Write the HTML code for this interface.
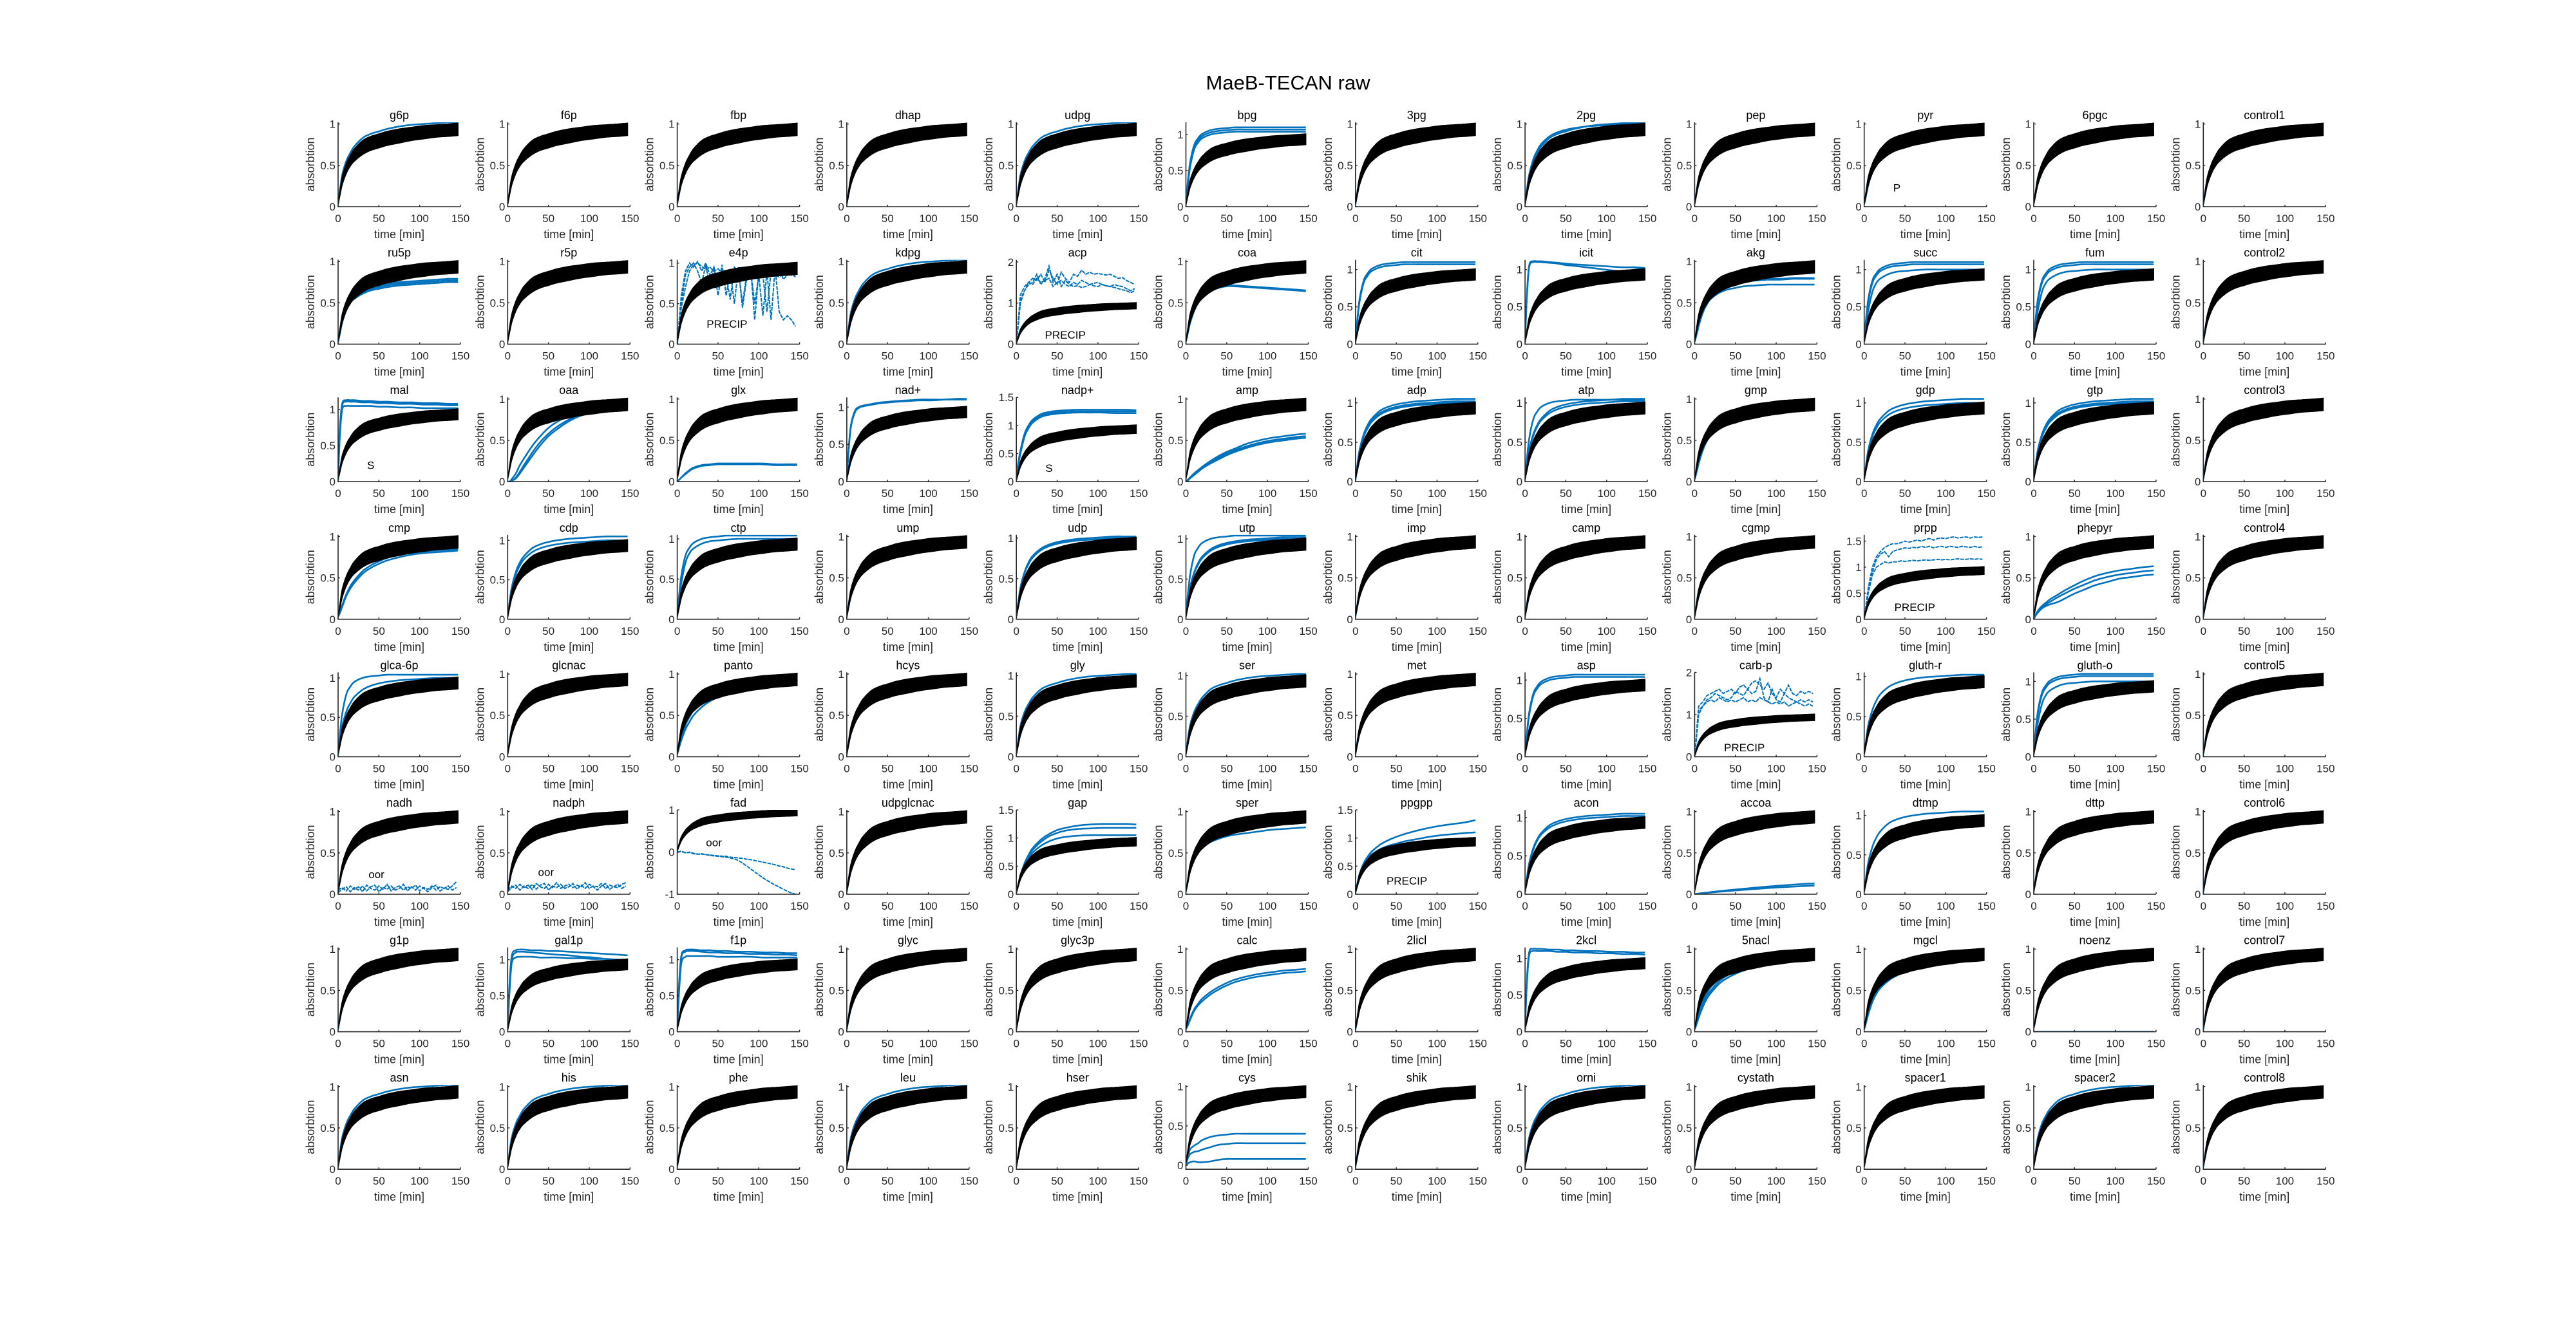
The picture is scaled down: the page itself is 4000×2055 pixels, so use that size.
<!DOCTYPE html>
<html><head><meta charset="utf-8"><title>MaeB-TECAN raw</title>
<style>html,body{margin:0;padding:0;background:#fff}svg{display:block}text{font-family:"Liberation Sans",Arial,sans-serif;fill:#262626}</style>
</head><body>
<svg id="fig" width="4000" height="2055" viewBox="0 0 4000 2055" xmlns="http://www.w3.org/2000/svg">
<rect x="0" y="0" width="4000" height="2055" fill="#fff"/>
<text x="2000" y="139" font-size="31" text-anchor="middle" style="fill:#000">MaeB-TECAN raw</text>
</svg>
<script>
const T=[0,2,5,10,15,20,30,40,50,60,75,90,105,120,135,147];
const TN=[0,5,10,15,20,25,30,35,40,45,50,55,60,65,70,75,80,85,90,95,100,105,110,115,120,125,130,135,140,145];
const bandTop=[0.03,0.17,0.36,0.52,0.62,0.70,0.80,0.85,0.88,0.91,0.94,0.96,0.98,0.99,1.0,1.01];
const bandBot=[0.03,0.12,0.26,0.40,0.49,0.55,0.63,0.68,0.71,0.74,0.77,0.80,0.82,0.84,0.85,0.86];
const panelNames=["g6p","f6p","fbp","dhap","udpg","bpg","3pg","2pg","pep","pyr","6pgc","control1",
"ru5p","r5p","e4p","kdpg","acp","coa","cit","icit","akg","succ","fum","control2",
"mal","oaa","glx","nad+","nadp+","amp","adp","atp","gmp","gdp","gtp","control3",
"cmp","cdp","ctp","ump","udp","utp","imp","camp","cgmp","prpp","phepyr","control4",
"glca-6p","glcnac","panto","hcys","gly","ser","met","asp","carb-p","gluth-r","gluth-o","control5",
"nadh","nadph","fad","udpglcnac","gap","sper","ppgpp","acon","accoa","dtmp","dttp","control6",
"g1p","gal1p","f1p","glyc","glyc3p","calc","2licl","2kcl","5nacl","mgcl","noenz","control7",
"asn","his","phe","leu","hser","cys","shik","orni","cystath","spacer1","spacer2","control8"];
const panelYmax=[1.02,1.02,1.02,1.02,1.02,1.17,1.02,1.02,1.02,1.02,1.02,1.02,
1.02,1.02,1.04,1.02,2.05,1.02,1.13,1.13,1.02,1.13,1.13,1.02,
1.17,1.02,1.02,1.13,1.5,1.02,1.07,1.07,1.02,1.07,1.07,1.02,
1.02,1.07,1.05,1.02,1.04,1.05,1.02,1.02,1.02,1.62,1.02,1.02,
1.07,1.02,1.02,1.02,1.04,1.04,1.02,1.1,2.0,1.05,1.12,1.02,
1.02,1.02,1.0,1.02,1.5,1.02,1.5,1.1,1.02,1.07,1.02,1.02,
1.02,1.17,1.17,1.02,1.02,1.02,1.02,1.15,1.02,1.02,1.02,1.02,
1.02,1.02,1.02,1.02,1.02,1.02,1.02,1.02,1.02,1.02,1.02,1.02];
const panelYmin={"fad":-1,"cys":-0.05};
const nearTop=[0.03,0.16,0.34,0.50,0.60,0.68,0.78,0.84,0.87,0.90,0.93,0.95,0.97,0.98,0.99,1.0];
const aboveTop=[0.03,0.18,0.38,0.55,0.65,0.73,0.83,0.88,0.91,0.94,0.97,0.99,1.0,1.01,1.02,1.02];
const hi110=[0.03,0.3,0.6,0.85,0.95,1.01,1.06,1.08,1.09,1.1,1.1,1.1,1.1,1.1,1.1,1.1];
const hi107=[0.03,0.28,0.57,0.82,0.92,0.98,1.03,1.05,1.06,1.07,1.07,1.07,1.07,1.07,1.07,1.07];
const hi104=[0.03,0.26,0.54,0.79,0.89,0.95,1.0,1.02,1.03,1.04,1.04,1.04,1.04,1.04,1.04,1.04];
const s100=[0.03,0.22,0.45,0.7,0.82,0.88,0.94,0.97,0.98,0.99,1.0,1.0,1.0,1.0,1.0,1.0];
const up105=[0.03,0.19,0.4,0.6,0.72,0.8,0.9,0.95,0.98,1.0,1.02,1.03,1.04,1.05,1.05,1.05];
const up102=[0.03,0.18,0.39,0.58,0.7,0.78,0.87,0.92,0.95,0.97,0.99,1.0,1.01,1.02,1.02,1.02];
const up100=[0.03,0.18,0.38,0.57,0.68,0.76,0.85,0.9,0.93,0.95,0.97,0.98,0.99,1.0,1.0,1.0];
const pyrC=[0.03,0.12,0.26,0.42,0.52,0.6,0.7,0.77,0.82,0.86,0.9,0.93,0.95,0.97,0.98,0.99];
const ru1=[0.03,0.14,0.29,0.44,0.53,0.59,0.65,0.69,0.71,0.73,0.75,0.76,0.77,0.78,0.79,0.79];
const ru2=[0.03,0.13,0.28,0.43,0.52,0.57,0.63,0.67,0.69,0.71,0.73,0.74,0.75,0.76,0.77,0.77];
const ru3=[0.03,0.12,0.26,0.41,0.5,0.55,0.61,0.65,0.67,0.69,0.71,0.72,0.73,0.74,0.75,0.75];
const coa1=[0.03,0.12,0.25,0.4,0.5,0.57,0.64,0.68,0.7,0.7,0.69,0.68,0.67,0.66,0.65,0.64];
const coa2=[0.03,0.13,0.27,0.42,0.52,0.59,0.66,0.69,0.71,0.71,0.7,0.69,0.68,0.67,0.66,0.65];
const icit1=[0.03,0.6,1.05,1.11,1.11,1.11,1.1,1.09,1.08,1.07,1.06,1.05,1.04,1.03,1.03,1.02];
const icit2=[0.03,0.58,1.03,1.1,1.1,1.1,1.09,1.08,1.06,1.05,1.03,1.01,0.99,0.98,1.0,1.02];
const akg1=[0.03,0.14,0.28,0.45,0.56,0.63,0.7,0.74,0.76,0.77,0.78,0.79,0.79,0.8,0.8,0.8];
const akg2=[0.03,0.13,0.27,0.44,0.55,0.62,0.69,0.73,0.75,0.76,0.77,0.78,0.78,0.79,0.79,0.79];
const akg3=[0.03,0.1,0.22,0.38,0.48,0.55,0.62,0.66,0.68,0.7,0.71,0.72,0.72,0.72,0.72,0.72];
const mal1=[0.03,0.7,1.08,1.13,1.13,1.13,1.12,1.12,1.11,1.11,1.1,1.1,1.09,1.09,1.08,1.08];
const mal2=[0.03,0.68,1.06,1.11,1.11,1.11,1.1,1.1,1.09,1.09,1.08,1.08,1.07,1.07,1.06,1.06];
const mal3=[0.03,0.6,1.0,1.05,1.05,1.05,1.05,1.05,1.04,1.04,1.03,1.03,1.02,1.02,1.02,1.02];
const oaa1=[0,0,0.01,0.05,0.12,0.2,0.35,0.48,0.58,0.66,0.75,0.81,0.86,0.88,0.9,0.91];
const oaa2=[0,0,0.03,0.1,0.2,0.28,0.43,0.55,0.65,0.72,0.8,0.85,0.88,0.9,0.91,0.92];
const oaa3=[0,0,0.01,0.04,0.1,0.17,0.31,0.44,0.55,0.63,0.73,0.8,0.85,0.88,0.9,0.91];
const glx1=[0,0.02,0.05,0.1,0.14,0.17,0.2,0.21,0.22,0.22,0.22,0.22,0.22,0.21,0.21,0.21];
const glx2=[0,0.02,0.05,0.09,0.13,0.16,0.19,0.2,0.21,0.21,0.21,0.21,0.21,0.2,0.2,0.2];
const nad1=[0.03,0.4,0.75,0.95,1.0,1.02,1.04,1.06,1.07,1.08,1.09,1.1,1.1,1.1,1.11,1.11];
const nad2=[0.03,0.38,0.73,0.93,0.99,1.01,1.03,1.05,1.06,1.07,1.08,1.09,1.09,1.1,1.1,1.1];
const np1=[0.03,0.3,0.55,0.85,1.0,1.1,1.2,1.24,1.26,1.27,1.28,1.28,1.28,1.28,1.28,1.27];
const np2=[0.03,0.28,0.52,0.82,0.97,1.07,1.17,1.21,1.23,1.24,1.25,1.25,1.25,1.25,1.25,1.25];
const np3=[0.03,0.27,0.5,0.8,0.95,1.05,1.15,1.19,1.21,1.22,1.23,1.23,1.23,1.22,1.22,1.22];
const amp1=[0,0.02,0.05,0.1,0.14,0.18,0.25,0.31,0.36,0.4,0.46,0.5,0.53,0.55,0.57,0.58];
const amp2=[0,0.02,0.05,0.09,0.13,0.17,0.24,0.29,0.34,0.38,0.43,0.47,0.5,0.52,0.54,0.55];
const amp3=[0,0.01,0.04,0.08,0.12,0.16,0.22,0.27,0.32,0.36,0.41,0.45,0.48,0.5,0.52,0.53];
const gmp1=[0.03,0.12,0.25,0.42,0.53,0.6,0.7,0.76,0.8,0.83,0.86,0.88,0.89,0.9,0.9,0.9];
const gmp2=[0.03,0.1,0.22,0.38,0.49,0.56,0.66,0.72,0.77,0.8,0.84,0.86,0.88,0.89,0.9,0.9];
const cmp1=[0.03,0.08,0.17,0.3,0.4,0.47,0.58,0.65,0.7,0.74,0.78,0.8,0.82,0.83,0.84,0.85];
const cmp2=[0.03,0.07,0.15,0.28,0.37,0.44,0.55,0.62,0.67,0.71,0.75,0.78,0.8,0.81,0.82,0.83];
const ph1=[0,0.05,0.1,0.16,0.2,0.24,0.3,0.36,0.41,0.46,0.52,0.56,0.59,0.61,0.63,0.64];
const ph2=[0,0.04,0.09,0.14,0.18,0.21,0.27,0.32,0.37,0.41,0.47,0.51,0.54,0.56,0.58,0.59];
const ph3=[0,0.04,0.08,0.13,0.16,0.18,0.21,0.26,0.31,0.35,0.41,0.45,0.49,0.51,0.53,0.54];
const pa1=[0.03,0.1,0.2,0.33,0.42,0.5,0.6,0.67,0.72,0.76,0.8,0.83,0.85,0.87,0.88,0.89];
const pa2=[0.03,0.12,0.24,0.38,0.48,0.56,0.66,0.72,0.77,0.8,0.84,0.86,0.88,0.89,0.9,0.9];
const gap1=[0.03,0.15,0.33,0.55,0.7,0.82,0.97,1.07,1.14,1.18,1.22,1.24,1.25,1.25,1.25,1.24];
const gap2=[0.03,0.15,0.32,0.53,0.68,0.79,0.93,1.03,1.09,1.13,1.16,1.17,1.18,1.18,1.18,1.18];
const gap3=[0.03,0.14,0.3,0.5,0.64,0.74,0.86,0.94,0.99,1.02,1.04,1.05,1.05,1.05,1.05,1.05];
const sp1=[0.03,0.13,0.28,0.42,0.5,0.56,0.63,0.67,0.7,0.72,0.74,0.76,0.78,0.79,0.8,0.81];
const pp1=[0.03,0.17,0.36,0.55,0.67,0.76,0.88,0.96,1.02,1.07,1.13,1.18,1.22,1.25,1.28,1.32];
const pp2=[0.03,0.16,0.34,0.52,0.63,0.71,0.8,0.86,0.9,0.94,0.98,1.02,1.05,1.07,1.09,1.1];
const ac1=[0,0.003,0.008,0.015,0.02,0.026,0.037,0.047,0.057,0.066,0.08,0.093,0.105,0.115,0.125,0.13];
const ac2=[0,0.002,0.006,0.012,0.016,0.021,0.03,0.038,0.046,0.053,0.064,0.075,0.084,0.092,0.1,0.105];
const gal1=[0.03,0.6,1.05,1.13,1.14,1.14,1.13,1.13,1.12,1.12,1.11,1.1,1.09,1.08,1.07,1.06];
const gal2=[0.03,0.55,1.0,1.1,1.11,1.11,1.1,1.09,1.08,1.07,1.06,1.04,1.03,1.01,1.0,0.99];
const gal3=[0.03,0.5,0.95,1.03,1.04,1.04,1.04,1.03,1.03,1.03,1.02,1.02,1.01,1.01,1.0,1.0];
const f1a=[0.03,0.6,1.05,1.13,1.14,1.14,1.13,1.13,1.12,1.12,1.11,1.11,1.1,1.1,1.09,1.09];
const f1b=[0.03,0.58,1.03,1.11,1.12,1.12,1.11,1.1,1.1,1.09,1.09,1.08,1.08,1.07,1.07,1.06];
const f1c=[0.03,0.5,0.95,1.04,1.05,1.05,1.05,1.05,1.04,1.04,1.04,1.04,1.03,1.03,1.03,1.03];
const ca1=[0.03,0.08,0.16,0.27,0.34,0.4,0.48,0.54,0.59,0.63,0.67,0.7,0.72,0.74,0.75,0.76];
const ca2=[0.03,0.07,0.14,0.25,0.32,0.37,0.45,0.51,0.56,0.6,0.64,0.67,0.69,0.71,0.72,0.73];
const li1=[0.03,0.13,0.28,0.45,0.56,0.64,0.74,0.8,0.84,0.87,0.9,0.92,0.94,0.95,0.96,0.97];
const kc1=[0.03,0.65,1.08,1.13,1.13,1.13,1.12,1.12,1.11,1.11,1.1,1.1,1.09,1.09,1.08,1.08];
const kc2=[0.03,0.6,1.04,1.1,1.1,1.1,1.1,1.09,1.09,1.08,1.08,1.07,1.07,1.06,1.06,1.05];
const na1=[0.03,0.08,0.17,0.3,0.4,0.47,0.58,0.65,0.7,0.74,0.79,0.82,0.85,0.87,0.88,0.89];
const na2=[0.03,0.09,0.19,0.33,0.43,0.5,0.61,0.68,0.73,0.77,0.81,0.84,0.86,0.88,0.89,0.9];
const na3=[0.03,0.1,0.21,0.36,0.46,0.54,0.64,0.71,0.76,0.8,0.84,0.86,0.88,0.89,0.9,0.9];
const mg1=[0.03,0.1,0.21,0.36,0.46,0.53,0.62,0.68,0.72,0.76,0.8,0.83,0.85,0.87,0.88,0.89];
const flat0=[0,0,0,0,0,0,0,0,0,0,0,0,0,0,0,0];
const cy1=[0,0.1,0.2,0.25,0.28,0.32,0.36,0.38,0.39,0.4,0.4,0.4,0.4,0.4,0.4,0.4];
const cy2=[0,0.08,0.14,0.17,0.18,0.2,0.23,0.26,0.27,0.28,0.28,0.28,0.28,0.28,0.28,0.28];
const cy3=[0,0.02,0.04,0.05,0.04,0.04,0.05,0.07,0.08,0.08,0.08,0.08,0.08,0.08,0.08,0.08];
const e4p1=[0,0.6,0.9,1.0,0.95,1.02,0.9,1.0,0.85,0.95,0.7,0.98,0.6,0.9,0.5,0.95,0.45,0.8,0.9,0.5,0.85,0.35,0.9,0.3,0.95,0.4,0.3,0.35,0.3,0.22];
const e4p2=[0,0.5,0.85,0.95,1.0,0.9,0.75,0.98,0.7,0.95,0.6,0.9,0.85,0.55,0.95,0.9,0.5,0.85,0.95,0.3,0.9,0.85,0.4,0.9,0.85,0.95,0.8,0.85,0.9,0.82];
const e4p3=[0,0.45,0.7,0.9,0.98,1.0,0.96,0.92,0.95,0.9,0.93,0.88,0.9,0.85,0.9,0.88,0.85,0.87,0.9,0.85,0.88,0.84,0.86,0.9,0.85,0.83,0.86,0.88,0.85,0.84];
const acp1=[0,1.2,1.4,1.5,1.6,1.55,1.7,1.5,1.8,1.6,1.45,1.75,1.6,1.5,1.7,1.65,1.8,1.7,1.75,1.7,1.72,1.7,1.68,1.7,1.65,1.6,1.62,1.55,1.5,1.45];
const acp2=[0,1.1,1.3,1.45,1.5,1.7,1.45,1.6,1.9,1.5,1.7,1.4,1.55,1.45,1.4,1.42,1.38,1.4,1.45,1.42,1.4,1.45,1.42,1.4,1.45,1.42,1.4,1.35,1.3,1.35];
const acp3=[0,1.0,1.3,1.5,1.45,1.6,1.5,1.55,1.6,1.4,1.5,1.55,1.45,1.4,1.5,1.45,1.55,1.5,1.45,1.48,1.5,1.45,1.42,1.4,1.38,1.35,1.32,1.3,1.25,1.3];
const prpp1=[0,0.6,1.0,1.2,1.3,1.38,1.42,1.45,1.45,1.47,1.5,1.48,1.5,1.52,1.5,1.53,1.55,1.52,1.55,1.56,1.55,1.57,1.58,1.56,1.57,1.58,1.56,1.58,1.57,1.58];
const prpp2=[0,0.55,0.9,1.15,1.25,1.3,1.2,1.3,1.33,1.35,1.37,1.36,1.38,1.37,1.4,1.38,1.4,1.37,1.39,1.4,1.38,1.4,1.39,1.38,1.4,1.39,1.38,1.4,1.38,1.39];
const prpp3=[0,0.5,0.85,1.0,1.05,1.1,1.08,1.1,1.1,1.12,1.11,1.12,1.13,1.12,1.13,1.14,1.13,1.14,1.15,1.14,1.15,1.14,1.15,1.16,1.15,1.15,1.16,1.15,1.16,1.15];
const carb1=[0,1.2,1.3,1.45,1.5,1.55,1.6,1.5,1.55,1.6,1.5,1.65,1.7,1.6,1.75,1.8,1.7,1.6,1.75,1.5,1.4,1.6,1.5,1.7,1.5,1.45,1.55,1.5,1.55,1.5];
const carb2=[0,1.1,1.2,1.35,1.4,1.5,1.45,1.4,1.35,1.4,1.55,1.5,1.45,1.6,1.5,1.55,1.85,1.4,1.3,1.6,1.35,1.3,1.5,1.4,1.35,1.3,1.35,1.3,1.35,1.3];
const carb3=[0,1.0,1.2,1.3,1.35,1.3,1.4,1.35,1.3,1.35,1.3,1.35,1.4,1.3,1.35,1.3,1.4,1.35,1.3,1.25,1.3,1.25,1.3,1.2,1.25,1.3,1.25,1.2,1.25,1.2];
const nadh1=[0.05,0.08,0.04,0.1,0.06,0.09,0.03,0.11,0.07,0.05,0.1,0.06,0.12,0.04,0.08,0.1,0.05,0.09,0.07,0.11,0.04,0.08,0.06,0.1,0.05,0.09,0.07,0.06,0.1,0.15];
const nadh2=[0.02,0.06,0.09,0.03,0.08,0.05,0.1,0.04,0.09,0.11,0.03,0.08,0.06,0.1,0.05,0.07,0.12,0.04,0.09,0.05,0.1,0.07,0.03,0.08,0.11,0.04,0.07,0.1,0.05,0.08];
const nadph1=[0.05,0.1,0.07,0.12,0.08,0.11,0.06,0.13,0.09,0.07,0.12,0.08,0.14,0.07,0.1,0.12,0.08,0.11,0.09,0.14,0.07,0.1,0.09,0.13,0.07,0.11,0.09,0.08,0.12,0.14];
const nadph2=[0.03,0.08,0.11,0.05,0.1,0.07,0.12,0.06,0.11,0.13,0.05,0.1,0.08,0.12,0.07,0.09,0.13,0.06,0.11,0.07,0.12,0.09,0.05,0.1,0.13,0.06,0.09,0.12,0.07,0.1];
const fad1=[0,0.02,-0.02,0,-0.03,-0.05,-0.04,-0.06,-0.07,-0.08,-0.09,-0.1,-0.1,-0.12,-0.13,-0.14,-0.15,-0.17,-0.18,-0.2,-0.22,-0.24,-0.26,-0.28,-0.3,-0.33,-0.35,-0.38,-0.4,-0.42];
const fad2=[0,0.01,-0.01,-0.01,-0.04,-0.05,-0.05,-0.06,-0.08,-0.09,-0.1,-0.11,-0.12,-0.14,-0.16,-0.2,-0.26,-0.33,-0.4,-0.47,-0.54,-0.61,-0.67,-0.73,-0.78,-0.83,-0.88,-0.93,-0.97,-1.0];
const blueSmooth={"g6p":[aboveTop],"udpg":[aboveTop],"bpg":[hi110,hi107,hi104],"2pg":[aboveTop,up100],"pyr":[pyrC],
"ru5p":[ru1,ru2,ru3],"kdpg":[aboveTop],"coa":[coa1,coa2],"cit":[hi110,hi107],"icit":[icit1,icit2],"akg":[akg1,akg2,akg3],
"succ":[hi110,hi107,s100],"fum":[hi110,hi107,s100],"mal":[mal1,mal2,mal3],"oaa":[oaa1,oaa2,oaa3],"glx":[glx1,glx2],
"nad+":[nad1,nad2],"nadp+":[np1,np2,np3],"amp":[amp1,amp2,amp3],"adp":[up105,up102,up100],"atp":[up105,hi104,up102],
"gmp":[gmp1,gmp2],"gdp":[up105,up100],"gtp":[up105,up102,up100],"cmp":[cmp1,cmp2],"cdp":[up105,up100],"ctp":[hi104,s100],
"udp":[up102,up100],"utp":[hi104,up102,up100],"phepyr":[ph1,ph2,ph3],"glca-6p":[hi104,up100],"panto":[pa1,pa2],
"gly":[aboveTop],"ser":[aboveTop],"asp":[hi107,hi104],"gluth-r":[up102],"gluth-o":[hi110,hi107,s100],
"gap":[gap1,gap2,gap3],"sper":[sp1],"ppgpp":[pp1,pp2],"acon":[up105,up102],"accoa":[ac1,ac2],"dtmp":[up105],
"gal1p":[gal1,gal2,gal3],"f1p":[f1a,f1b,f1c],"calc":[ca1,ca2],"2licl":[li1],"2kcl":[kc1,kc2],"5nacl":[na1,na2,na3],
"mgcl":[mg1,li1],"noenz":[flat0],"cys":[cy1,cy2,cy3],"asn":[aboveTop],"his":[aboveTop],"leu":[aboveTop],"orni":[aboveTop],"spacer2":[aboveTop]};
const blueNoisy={"e4p":[e4p1,e4p2,e4p3],"acp":[acp1,acp2,acp3],"prpp":[prpp1,prpp2,prpp3],"carb-p":[carb1,carb2,carb3],
"nadh":[nadh1,nadh2],"nadph":[nadph1,nadph2],"fad":[fad1,fad2]};
const notes={"pyr":["P",40,0.23],"e4p":["PRECIP",61,0.25],"acp":["PRECIP",60,0.23],"mal":["S",40,0.23],"nadp+":["S",40,0.24],
"prpp":["PRECIP",62,0.23],"carb-p":["PRECIP",61,0.22],"nadh":["oor",47,0.24],"nadph":["oor",47,0.27],"fad":["oor",45,0.23],"ppgpp":["PRECIP",63,0.24]};

const NS="http://www.w3.org/2000/svg";
const svg=document.getElementById('fig');
const BLUE="#0072BD";
function mk(tag,attrs,parent){const e=document.createElementNS(NS,tag);for(const k in attrs)e.setAttribute(k,attrs[k]);(parent||svg).appendChild(e);return e;}
function smooth(px,py){let pts=[];for(let i=0;i<px.length-1;i++){const x0=px[Math.max(i-1,0)],y0=py[Math.max(i-1,0)],x1=px[i],y1=py[i],x2=px[i+1],y2=py[i+1],x3=px[Math.min(i+2,px.length-1)],y3=py[Math.min(i+2,px.length-1)];
for(let s=0;s<8;s++){const t=s/8,t2=t*t,t3=t2*t;pts.push([0.5*(2*x1+(-x0+x2)*t+(2*x0-5*x1+4*x2-x3)*t2+(-x0+3*x1-3*x2+x3)*t3),0.5*(2*y1+(-y0+y2)*t+(2*y0-5*y1+4*y2-y3)*t2+(-y0+3*y1-3*y2+y3)*t3)]);}}
pts.push([px[px.length-1],py[py.length-1]]);return pts;}
function fmt(v){return (Math.round(v*10)/10).toString();}
const W=190,H=131;
panelNames.forEach((name,i)=>{
 const r=Math.floor(i/12),c=i%12;
 const L=525+c*263.3, B=321+r*213.6;
 const ymax=panelYmax[i], ymin=(name in panelYmin)?panelYmin[name]:0;
 const xs=t=>L+t/150*W, ys=v=>B-(v-ymin)/(ymax-ymin)*H;
 const g=mk('g',{});
 
 
 const cid='clip'+i;
 const cp=mk('clipPath',{id:cid},g);mk('rect',{x:L,y:B-H,width:W+2,height:H},cp);
 const plot=mk('g',{'clip-path':'url(#'+cid+')'},g);
 (blueSmooth[name]||[nearTop]).forEach((arr,k)=>{
  const p=smooth(T.map(xs),arr.map(ys));
  const pl=mk('polyline',{points:p.map(q=>q[0].toFixed(1)+','+q[1].toFixed(1)).join(' '),fill:'none',stroke:BLUE,'stroke-width':2.6},plot);
  
  
 });
 (blueNoisy[name]||[]).forEach((arr,k)=>{
  const pl=mk('polyline',{points:arr.map((v,j)=>xs(TN[j]).toFixed(1)+','+ys(v).toFixed(1)).join(' '),fill:'none',stroke:BLUE,'stroke-width':2,'stroke-dasharray':'6 1.5'},plot);
  
  
 });
 const top=smooth(T.map(xs),bandTop.map(ys)), bot=smooth(T.map(xs),bandBot.map(ys)).reverse();
 const band=mk('polygon',{points:top.concat(bot).map(q=>q[0].toFixed(1)+','+q[1].toFixed(1)).join(' '),fill:'#000',stroke:'#000','stroke-width':1.5},plot);
 
 
 const ax=mk('path',{d:`M${L},${B-H}V${B}H${L+W}`,fill:'none',stroke:'#262626','stroke-width':1.6},g);
 
 
 [0,50,100,150].forEach(t=>{mk('line',{x1:xs(t),x2:xs(t),y1:B,y2:B-3,stroke:'#262626','stroke-width':1.4},g);
  const tl=mk('text',{x:xs(t),y:B+24,'font-size':17,'text-anchor':'middle'},g);tl.textContent=t;
  
  });
 let yt;if(name==='fad')yt=[-1,0,1];else if(ymax>=1.9)yt=[0,1,2];else if(ymax>=1.4)yt=[0,0.5,1,1.5];else yt=[0,0.5,1];
 yt.forEach(v=>{mk('line',{x1:L,x2:L+3,y1:ys(v),y2:ys(v),stroke:'#262626','stroke-width':1.4},g);
  const tl=mk('text',{x:L-4,y:ys(v)+6,'font-size':17,'text-anchor':'end'},g);tl.textContent=fmt(v);
  
  });
 const ti=mk('text',{x:L+W/2,y:B-136,'font-size':18,'text-anchor':'middle',style:'fill:#000'},g);ti.textContent=name;
 
 
 const xl=mk('text',{x:L+W/2,y:B+49,'font-size':18,'text-anchor':'middle'},g);xl.textContent='time [min]';
 
 
 const yl=mk('text',{x:0,y:0,'font-size':18,'text-anchor':'middle',transform:`translate(${L-37},${B-H/2}) rotate(-90)`},g);yl.textContent='absorbtion';
 
 
 if(notes[name]){const n=notes[name];const nt=mk('text',{x:xs(n[1]),y:ys(n[2])+6,'font-size':17,'text-anchor':'middle',style:'fill:#000'},g);nt.textContent=n[0];
  
  }
});
</script>
</body></html>
